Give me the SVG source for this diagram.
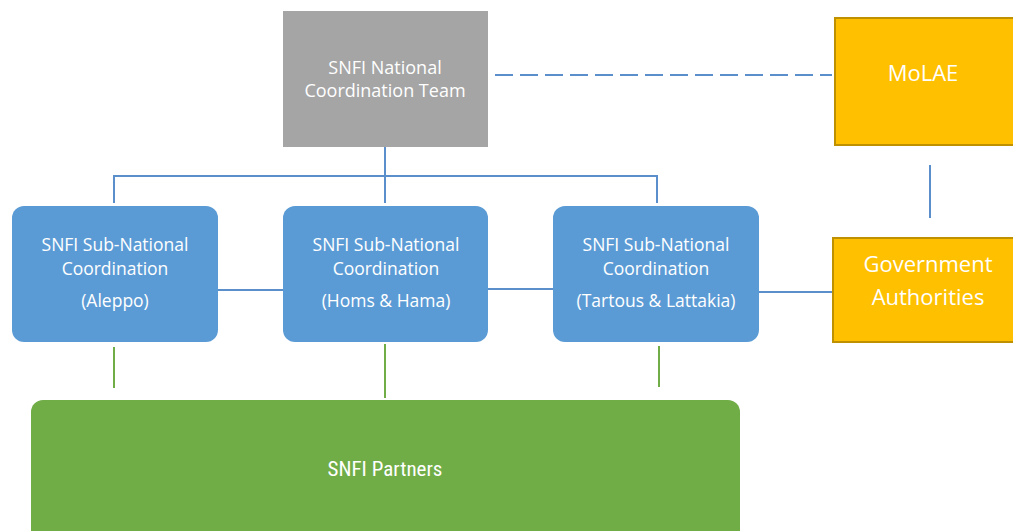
<svg xmlns="http://www.w3.org/2000/svg" width="1013" height="531" viewBox="0 0 1013 531">
<style>
.t{font-family:"Open Sans","Liberation Sans",sans-serif;fill:#fff;text-anchor:middle}
.s{font-size:17.5px}
.g{font-size:22px}
.b{fill:#5B9BD5}
.cb{stroke:#5B8FCB;stroke-width:2;fill:none}
.cg{stroke:#70AD47;stroke-width:2;fill:none}
</style>
<rect width="1013" height="531" fill="#fff"/>
<g id="connectors">
<path class="cb" d="M385 147V176M114 203V176H657V203M385 176V203"/>
<path class="cb" d="M218 290H283M488 289H553M759 292H832M930 165V218"/>
<path class="cb" d="M495 75H832" stroke-dasharray="18 7" stroke="#6A9FD4"/>
<path class="cg" d="M114 347V388M385 344V398M659 346V387"/>
</g>
<g id="national">
<rect x="283" y="11" width="205" height="136" fill="#A5A5A5"/>
<text class="t" x="385" y="74" font-size="18">SNFI National</text>
<text class="t" x="385" y="97" font-size="18">Coordination Team</text>
</g>
<g id="molae">
<rect x="835" y="18" width="180" height="127" fill="#FFC000" stroke="#BF9000" stroke-width="2"/>
<text class="t g" x="923" y="81">MoLAE</text>
</g>
<g id="gov">
<rect x="833" y="238" width="182" height="104" fill="#FFC000" stroke="#BF9000" stroke-width="2"/>
<text class="t g" x="928" y="272">Government</text>
<text class="t g" x="928" y="305">Authorities</text>
</g>
<g id="aleppo">
<rect class="b" x="12" y="206" width="206" height="136" rx="12"/>
<text class="t s" x="115" y="251">SNFI Sub-National</text>
<text class="t s" x="115" y="275">Coordination</text>
<text class="t s" x="115" y="307">(Aleppo)</text>
</g>
<g id="homs">
<rect class="b" x="283" y="206" width="205" height="136" rx="12"/>
<text class="t s" x="386" y="251">SNFI Sub-National</text>
<text class="t s" x="386" y="275">Coordination</text>
<text class="t s" x="386" y="307">(Homs &amp; Hama)</text>
</g>
<g id="tartous">
<rect class="b" x="553" y="206" width="206" height="136" rx="12"/>
<text class="t s" x="656" y="251">SNFI Sub-National</text>
<text class="t s" x="656" y="275">Coordination</text>
<text class="t s" x="656" y="307">(Tartous &amp; Lattakia)</text>
</g>
<g id="partners">
<rect x="31" y="400" width="709" height="145" rx="12" fill="#70AD47"/>
<text x="385" y="476" fill="#fff" text-anchor="middle" font-size="21" style="font-family:Roboto,'Liberation Sans',sans-serif;font-stretch:condensed">SNFI Partners</text>
</g>
</svg>
